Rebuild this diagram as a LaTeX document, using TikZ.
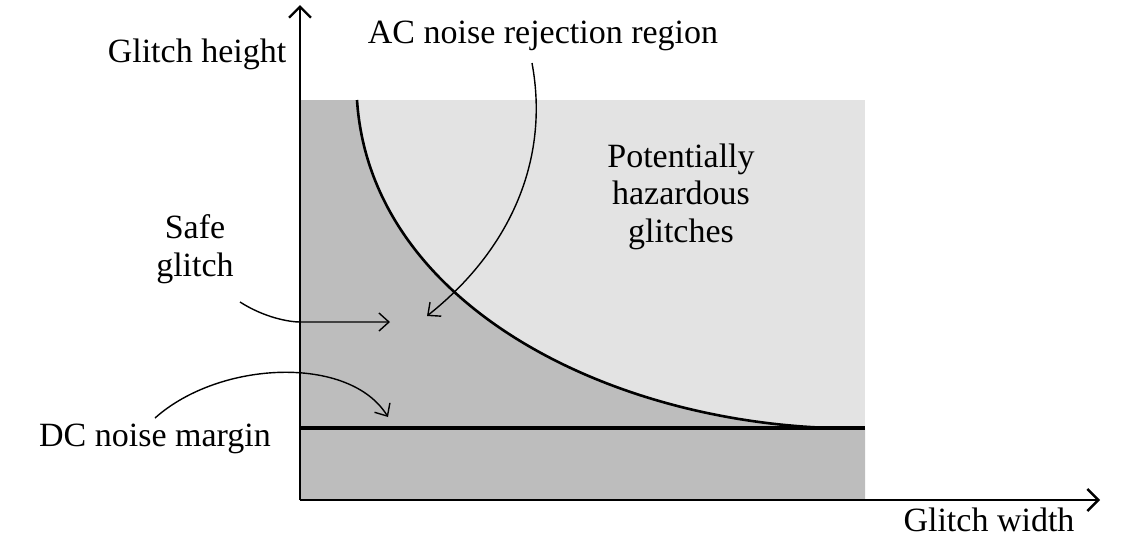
\documentclass[tikz,border=0pt]{standalone}
\usepackage{fontspec}
\setmainfont{Liberation Serif}
\usetikzlibrary{arrows.meta}
\tikzset{
  txt/.style={inner sep=0pt, anchor=base, align=center, font=\fontsize{34}{37.5}\selectfont},
  pointer/.style={arrows={-Straight Barb[length=10pt, width=18pt]}, line width=1.4pt},
  axis/.style={line width=2.4pt, arrows={-Straight Barb[length=11pt, width=22pt]}},
}
\begin{document}
\begin{tikzpicture}[x=1pt,y=-1pt]
\useasboundingbox (0,0) rectangle (1122,550);
\coordinate (O) at (300,500);
\coordinate (topleft) at (300,100);
\coordinate (topright) at (865,100);
\coordinate (dcleft) at (300,428);
\coordinate (dcright) at (865,428);
\coordinate (curvetop) at (357,100);
\coordinate (curveend) at (830,428);
\coordinate (ytip) at (300,5);
\coordinate (xtip) at (1100,500);
\fill[black!11] (topleft) rectangle (865,500);
\fill[black!26] (topleft)--(curvetop) .. controls (370,300) and (600,420) .. (curveend)--(dcright)--(865,500)--(O)--cycle;
\draw[line width=2.6pt] (curvetop) .. controls (370,300) and (600,420) .. (curveend);
\draw[line width=3.2pt] (dcleft)--(dcright);
\draw[axis] (O)--(ytip);
\draw[axis] (O)--(xtip);
\node[txt] (ylabel) at (197,62) {Glitch height};
\node[txt] (xlabel) at (989,531) {Glitch width};
\node[txt] (acnoise) at (543,43) {AC noise rejection region};
\node[txt] (hazard) at (681,242) {Potentially\\hazardous\\glitches};
\node[txt] (safe) at (195,276) {Safe\\glitch};
\node[txt] (dcnoise) at (155,446) {DC noise margin};
\coordinate (acstart) at (532,63);
\coordinate (actip) at (427,316);
\coordinate (safestart) at (240,302);
\coordinate (safetip) at (390,322);
\coordinate (dcstart) at (155,418);
\coordinate (dctip) at (388,417);
\draw[pointer] (acstart) .. controls (550,160) and (510,250) .. (actip);
\draw[pointer] (safestart) .. controls (265,318) and (290,322) .. (300,322) -- (safetip);
\draw[pointer] (dcstart) .. controls (220,360) and (350,355) .. (dctip);
\end{tikzpicture}
\end{document}
